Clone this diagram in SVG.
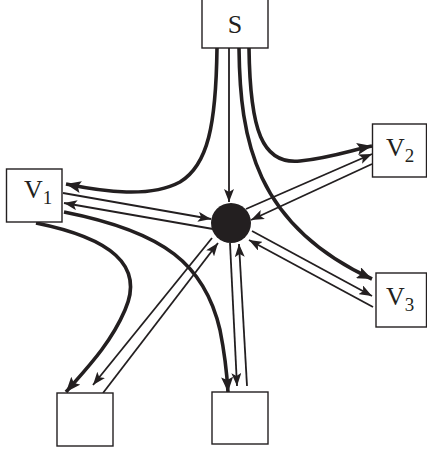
<svg xmlns="http://www.w3.org/2000/svg" width="427" height="452" viewBox="0 0 427 452">
<style>
.box{fill:#fff;stroke:#231f20;stroke-width:1.4}
.thin{fill:none;stroke:#231f20;stroke-width:1.8}
.thick{fill:none;stroke:#231f20;stroke-width:3.6}
.lbl{font-family:"Liberation Serif","Times New Roman",serif;fill:#231f20}
</style>
<defs>
<marker id="ah" markerUnits="userSpaceOnUse" markerWidth="14" markerHeight="10" viewBox="0 0 14 10" refX="13" refY="5" orient="auto">
<path d="M0,0 L13,5 L0,10 L3,5 Z" fill="#231f20"/>
</marker>
<marker id="ahk" markerUnits="userSpaceOnUse" markerWidth="16" markerHeight="12" viewBox="0 0 16 12" refX="15" refY="6" orient="auto">
<path d="M0,0 L15,6 L0,12 L3,6 Z" fill="#231f20"/>
</marker>
</defs>
<g id="connectors">
<line class="thin" x1="229" y1="48" x2="229" y2="202" marker-end="url(#ah)"/>
<path class="thick" d="M217,48 C216,125 208,165 180,182 C150,198 105,192 66,184" marker-end="url(#ahk)"/>
<path class="thick" d="M249,48 C250,130 262,165 300,161 C330,158 352,150 372,146" marker-end="url(#ahk)"/>
<path class="thick" d="M239,48 C240,140 255,225 372,279" marker-end="url(#ahk)"/>
<path class="thick" d="M36,223 C110,238 145,265 125,310 C110,345 85,370 66,392" marker-end="url(#ahk)"/>
<path class="thick" d="M64,212 C165,232 205,265 220,330 C225,355 227,375 228,392" marker-end="url(#ahk)"/>
<line class="thin" x1="63" y1="193" x2="211" y2="219" marker-end="url(#ah)"/>
<line class="thin" x1="213" y1="229" x2="64" y2="203" marker-end="url(#ah)"/>
<line class="thin" x1="246" y1="209" x2="372" y2="154" marker-end="url(#ah)"/>
<line class="thin" x1="372" y1="164" x2="251" y2="220" marker-end="url(#ah)"/>
<line class="thin" x1="252" y1="231" x2="372" y2="296" marker-end="url(#ah)"/>
<line class="thin" x1="373" y1="307" x2="249" y2="240" marker-end="url(#ah)"/>
<line class="thin" x1="212" y1="238" x2="93" y2="385" marker-end="url(#ah)"/>
<line class="thin" x1="103" y1="393" x2="218" y2="243" marker-end="url(#ah)"/>
<line class="thin" x1="230" y1="243" x2="237" y2="386" marker-end="url(#ah)"/>
<line class="thin" x1="247" y1="386" x2="239" y2="244" marker-end="url(#ah)"/>
</g>
<g id="hub"><circle cx="231" cy="223" r="20" fill="#231f20"/></g>
<g id="S"><rect class="box" x="202" y="-2" width="66" height="50"/><text class="lbl" x="235" y="33" font-size="26" text-anchor="middle">S</text></g>
<g id="V1"><rect class="box" x="6.5" y="169" width="55.5" height="53"/><text class="lbl" x="24" y="198" font-size="26">V<tspan font-size="19" dy="6">1</tspan></text></g>
<g id="V2"><rect class="box" x="372.5" y="124" width="54" height="53"/><text class="lbl" x="386" y="156" font-size="26">V<tspan font-size="19" dy="6">2</tspan></text></g>
<g id="V3"><rect class="box" x="376" y="273" width="50.5" height="54"/><text class="lbl" x="386" y="305" font-size="26">V<tspan font-size="19" dy="6">3</tspan></text></g>
<g id="B1"><rect class="box" x="57" y="393" width="56" height="53"/></g>
<g id="B2"><rect class="box" x="212" y="392" width="56" height="52"/></g>
</svg>
